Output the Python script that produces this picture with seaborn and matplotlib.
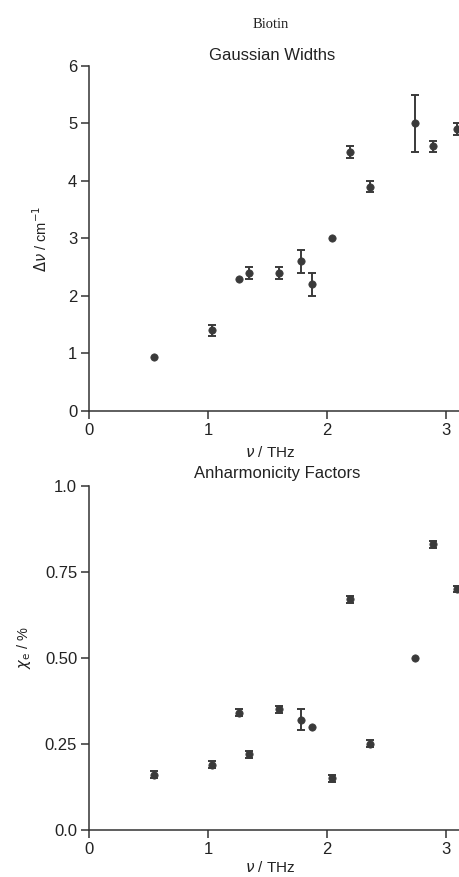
import numpy as np
import pandas as pd
import matplotlib
matplotlib.use("Agg")
import matplotlib.pyplot as plt
import seaborn as sns

# frequencies (THz) of the modes
freq = [0.55, 1.03, 1.26, 1.34, 1.60, 1.78, 1.87, 2.04, 2.19, 2.36, 2.74, 2.89, 3.09]

# Gaussian widths (cm^-1) and their errors
width = [0.93, 1.40, 2.30, 2.40, 2.40, 2.60, 2.20, 3.00, 4.50, 3.90, 5.00, 4.60, 4.90]
width_err = [0.0, 0.1, 0.0, 0.1, 0.1, 0.2, 0.2, 0.0, 0.1, 0.1, 0.5, 0.1, 0.1]

# anharmonicity factors (%) and their errors
anharm = [0.16, 0.19, 0.34, 0.22, 0.35, 0.32, 0.30, 0.15, 0.67, 0.25, 0.50, 0.83, 0.70]
anharm_err = [0.01, 0.01, 0.01, 0.01, 0.01, 0.03, 0.0, 0.01, 0.01, 0.01, 0.0, 0.01, 0.01]

df = pd.DataFrame({"freq": freq, "width": width, "width_err": width_err,
                   "anharm": anharm, "anharm_err": anharm_err})

sns.set_style("ticks")
plt.rcParams["font.family"] = ["Liberation Sans", "DejaVu Sans"]
plt.rcParams["mathtext.fontset"] = "dejavusans"

DARK = "#3a3a3a"
AX_COL = "#333333"

fig = plt.figure(figsize=(4.59, 8.77), dpi=100)
ax1 = fig.add_axes([0.194, 0.5314, 0.8296, 0.3934])
ax2 = fig.add_axes([0.194, 0.0536, 0.8296, 0.3926])


def style_axes(ax):
    sns.despine(ax=ax)
    for side in ["left", "bottom"]:
        ax.spines[side].set_linewidth(1.1)
        ax.spines[side].set_color(AX_COL)
    ax.tick_params(axis="both", direction="out", length=5.5, width=1.1,
                   color=AX_COL, labelsize=12, pad=3, labelcolor="#222222")
    ax.set_xlim(0, 3.2)
    ax.set_xticks([0, 1, 2, 3])


def draw(ax, ycol, ecol):
    sub = df[df[ecol] > 0]
    ax.errorbar(sub["freq"], sub[ycol], yerr=sub[ecol], fmt="none",
                ecolor=DARK, elinewidth=1.4, capsize=2.8, capthick=1.4,
                clip_on=False, zorder=2)
    sns.scatterplot(data=df, x="freq", y=ycol, ax=ax, color=DARK, s=28,
                    edgecolor=DARK, linewidth=0.5, zorder=3, clip_on=False)


draw(ax1, "width", "width_err")
style_axes(ax1)
ax1.set_ylim(0, 6)
ax1.set_yticks(range(0, 7))
ax1.set_xlabel(r"$\nu$ / THz", fontsize=11, color="#222222")
ax1.xaxis.set_label_coords(0.475, -0.099)
ax1.set_ylabel(r"$\Delta\nu$ / cm$^{-1}$", fontsize=10.5, color="#222222")
ax1.yaxis.set_label_coords(-0.102, 0.5)
ax1.text(0.482, 1.029, "Gaussian Widths", transform=ax1.transAxes,
         ha="center", va="center", fontsize=12, color="#222222")

draw(ax2, "anharm", "anharm_err")
style_axes(ax2)
ax2.set_ylim(0, 1.0)
ax2.set_yticks([0.0, 0.25, 0.5, 0.75, 1.0])
ax2.set_yticklabels(["0.0", "0.25", "0.50", "0.75", "1.0"])
ax2.set_xlabel(r"$\nu$ / THz", fontsize=11, color="#222222")
ax2.xaxis.set_label_coords(0.475, -0.088)
ax2.set_ylabel(r"$\chi_{\rm e}$ / %", fontsize=10.5, color="#222222")
ax2.yaxis.set_label_coords(-0.147, 0.53)
ax2.text(0.493, 1.034, "Anharmonicity Factors", transform=ax2.transAxes,
         ha="center", va="center", fontsize=12, color="#222222")

fig.text(0.59, 0.972, "Biotin", ha="center", va="center", fontsize=10.5,
         family=["Liberation Serif", "DejaVu Serif"], color="#222222")

fig.savefig("out.png", dpi=100)
